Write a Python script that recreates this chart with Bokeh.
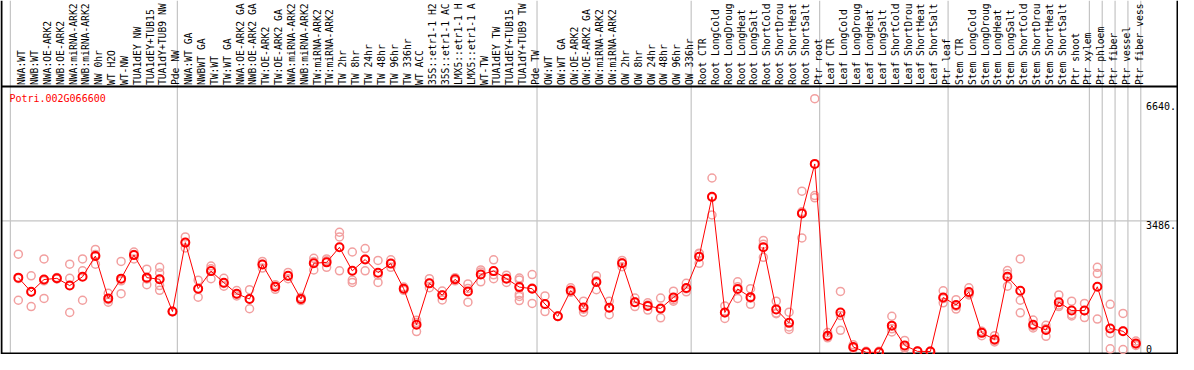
import numpy as np
from bokeh.plotting import figure
from bokeh.core.properties import value
from bokeh.embed import file_html
from bokeh.resources import INLINE

gene = "Potri.002G066600"

groups = [
    ["NWA:WT", "NWB:WT", "NWA:OE-ARK2", "NWB:OE-ARK2", "NWA:miRNA-ARK2", "NWB:miRNA-ARK2",
     "NW 0hr", "WT H2O", "WT-NW", "TUA1dEY NW", "TUA1dEY+TUB15 NW", "TUA1dY+TUB9 NW", "Pde NW"],
    ["NWA:WT GA", "NWBWT GA", "TW:WT", "TW:WT GA", "NWA:OE-ARK2 GA", "NWB:OE-ARK2 GA",
     "TW:OE-ARK2", "TW:OE-ARK2 GA", "NWA:miRNA-ARK2", "NWB:miRNA-ARK2", "TW:miRNA-ARK2",
     "TW:miRNA-ARK2", "TW 2hr", "TW 8hr", "TW 24hr", "TW 48hr", "TW 96hr", "TW 336hr",
     "WT ACC", "35S::etr1-1 H2O", "35S::etr1-1 ACC", "LMX5::etr1-1 H2O", "LMX5::etr1-1 ACC",
     "WT-TW", "TUA1dEY TW", "TUA1dEY+TUB15 TW", "TUA1dY+TUB9 TW", "Pde TW"],
    ["OW:WT", "OW:WT GA", "OW:OE-ARK2", "OW:OE-ARK2 GA", "OW:miRNA-ARK2", "OW:miRNA-ARK2",
     "OW 2hr", "OW 8hr", "OW 24hr", "OW 48hr", "OW 96hr", "OW 336hr"],
    ["Root CTR", "Root LongCold", "Root LongDrought", "Root LongHeat", "Root LongSalt",
     "Root ShortCold", "Root ShortDrought", "Root ShortHeat", "Root ShortSalt", "Ptr root"],
    ["Leaf CTR", "Leaf LongCold", "Leaf LongDrought", "Leaf LongHeat", "Leaf LongSalt",
     "Leaf ShortCold", "Leaf ShortDrought", "Leaf ShortHeat", "Leaf ShortSalt", "Ptr leaf"],
    ["Stem CTR", "Stem LongCold", "Stem LongDrought", "Stem LongHeat", "Stem LongSalt",
     "Stem ShortCold", "Stem ShortDrought", "Stem ShortHeat", "Stem ShortSalt",
     "Ptr shoot", "Ptr xylem"],
    ["Ptr phloem"],
    ["Ptr fiber"],
    ["Ptr vessel"],
    ["Ptr fiber vessel"],
]

means = [1985, 1611, 1935, 1967, 1776, 2009, 2557, 1436, 1959, 2582, 1985, 1942, 1088,
         2913, 1693, 2158, 1851, 1561, 1419, 2332, 1743, 2034, 1419, 2366, 2390, 2789, 2166,
         2465, 2117, 2357, 1693, 739, 1834, 1519, 1942, 1619, 2067, 2158, 1959, 1735, 1693,
         1287, 963, 1643, 1195, 1868, 1187, 2366, 1336, 1237, 1170, 1461, 1710,
         2540, 4125, 1062, 1685, 1469, 2789, 1145, 788, 3685, 4997,
         448, 1062, 149, 8, 10, 714, 191, 33, 30, 1461,
         1262, 1602, 523, 349, 2009, 1636, 739, 598, 1336, 1113, 1113,
         1743, 640, 565, 241]

replicates = [
    [2607, 1387, 1960], [2034, 1220, 1600], [2482, 1436, 1900], [1990, 1950, 1960],
    [2341, 1967, 1062], [2482, 2166, 1387], [2731, 2341, 2600], [1569, 1336, 1400],
    [2415, 1561, 1900], [2664, 2482, 2600], [2209, 1800, 1950], [2258, 2109, 1942, 1776, 1651],
    [1088, 1080, 1095],
    [3063, 2771, 2913], [1917, 1469, 1693], [2291, 1959, 2220], [1967, 1760, 1830],
    [1643, 1501, 1540], [1668, 1162, 1420], [2415, 2341, 2240], [1800, 1676, 1750],
    [2124, 1959, 2020], [1469, 1377, 1410], [2498, 2191, 2410], [2482, 2258, 2430],
    [3187, 3063, 2166], [2664, 1920, 1860], [2756, 2166, 2470], [2440, 1859, 2050],
    [2457, 2258, 2357], [1735, 1651, 1693], [797, 556, 860], [1959, 1718, 1834],
    [1527, 1394, 1630], [1985, 1900, 1940], [1818, 1336, 1700], [2191, 1875, 2135],
    [2457, 1959, 2060], [2050, 1859, 1968], [1975, 1925, 1743, 1544, 1486, 1377],
    [2067, 1303, 1710],
    [1501, 1088, 1280], [963, 955, 970], [1718, 1600, 1610], [1361, 1071, 1150],
    [2034, 1668, 1900], [1361, 1004, 1190], [2440, 2274, 2380], [1444, 1220, 1344],
    [1320, 1128, 1260], [1444, 921, 1150], [1627, 1361, 1400], [1835, 1610, 1690],
    [2632, 2366, 2620], [4624, 3644, 4110], [1237, 904, 1050], [1875, 1436, 1745],
    [1693, 1278, 1440], [2971, 2523, 2870], [1361, 1046, 1030], [1071, 615, 680],
    [4275, 3727, 3038], [6723, 4158, 4100],
    [531, 391, 420], [1619, 590, 980], [207, 120, 120], [33, 0, 0], [33, 0, 0],
    [963, 548, 630], [324, 116, 140], [33, 30, 30], [20, 35, 35], [1636, 1320, 1430],
    [1402, 1153, 1230], [1718, 1527, 1560], [556, 448, 565], [448, 282, 320],
    [2174, 1760, 2090], [2482, 1387, 1053], [864, 655, 700], [722, 431, 640],
    [1527, 1220, 1260], [1361, 971, 1010], [1303, 929, 1110],
    [2258, 2092, 889], [1278, 506, 100], [1037, 83, 575], [307, 224, 190],
]

y_tick_values = [0, 3486, 6640]
y_tick_labels = ["0", "3486.", "6640."]
y_grid_values = [3486]

# ---------------- layout (reference pixel geometry, fitted to the window) ----------------
W, H = 1178, 354
REF_W, REF_H = 1194, 370
CELL_PX, X0_PX = 13.02, 10.0          # reference cell width / first separator
ZERO_PX = 368.0                       # reference pixel row of value 0
PX_PER_UNIT = 140.0 / 3486.0          # reference pixels per unit
REF_HEADER = 85.0                     # reference header separator row
MY_HEADER = 86.0                      # header height kept in this figure
MAX_LABEL_CHARS = 14                  # characters the header shows


def xv(px):
    return (px - X0_PX) / CELL_PX


def yv(py):
    return (ZERO_PX - py) / PX_PER_UNIT


labels = [c for g in groups for c in g]
shown = [c[:MAX_LABEL_CHARS].rstrip() for c in labels]
n = len(labels)
idx = np.arange(n)
bounds = np.concatenate([[0], np.cumsum([len(g) for g in groups])])

pt_off = 0.62
xs = idx + pt_off

rx = [i + pt_off for i, reps in enumerate(replicates) for _ in reps]
ry = [v for reps in replicates for v in reps]

x_start, x_end = xv(0), xv(REF_W)
data_scale = (H - MY_HEADER) / (REF_H - REF_HEADER)
y_start = yv(REF_H)
y_end = yv(REF_HEADER - MY_HEADER / data_scale)

p = figure(width=W, height=H, x_range=(x_start, x_end), y_range=(y_start, y_end),
           output_backend="svg", toolbar_location=None,
           x_axis_location=None, y_axis_location=None, min_border=0, title=None)
p.grid.visible = False
p.outline_line_color = None
p.background_fill_color = "white"
p.border_fill_color = "white"

grid_color = "#c4c4c4"
# vertical group separators (full height)
p.segment(x0=bounds, y0=[y_start] * len(bounds), x1=bounds, y1=[y_end] * len(bounds),
          line_color=grid_color, line_width=1.2)
# horizontal grid
p.segment(x0=[xv(1)] * len(y_grid_values), y0=y_grid_values,
          x1=[xv(1193)] * len(y_grid_values), y1=y_grid_values,
          line_color=grid_color, line_width=1.2)

# black frame lines
bx0, bx1 = xv(1), xv(1193)
p.segment(x0=[bx0, bx1, bx0, bx0], y0=[y_start, y_start, yv(REF_HEADER), yv(369)],
          x1=[bx0, bx1, bx1, bx1], y1=[y_end, y_end, yv(REF_HEADER), yv(369)],
          line_color="black", line_width=2)

mono = value("DejaVu Sans Mono")

# category labels (vertical)
p.text(x=idx + 0.88, y=[yv(REF_HEADER - 1.5)] * n, text=shown, angle=np.pi / 2,
       text_align="left", text_baseline="alphabetic",
       text_font=mono, text_font_size="9.7px", text_color="black")

# replicate points
p.scatter(x=rx, y=ry, marker="circle", size=8, fill_color=None,
          line_color="#f2a0a0", line_width=1.5)
# mean line and points
p.line(x=xs, y=means, line_color="#ff0000", line_width=1)
p.scatter(x=xs, y=means, marker="circle", size=8, fill_color=None,
          line_color="#ff0000", line_width=2)

# value labels on the right
p.text(x=[xv(1161)] * 2, y=y_tick_values[1:], text=y_tick_labels[1:],
       text_align="left", text_baseline="top",
       text_font=mono, text_font_size="10px", text_color="black")
p.text(x=[xv(1161)], y=y_tick_values[:1], text=y_tick_labels[:1],
       text_align="left", text_baseline="bottom",
       text_font=mono, text_font_size="10px", text_color="black")

# gene id
p.text(x=[xv(9)], y=[yv(97.5)], text=[gene], text_align="left", text_baseline="middle",
       text_font=mono, text_font_size="10px", text_color="#ff0000")

open("out.html", "w").write(file_html(p, INLINE))
